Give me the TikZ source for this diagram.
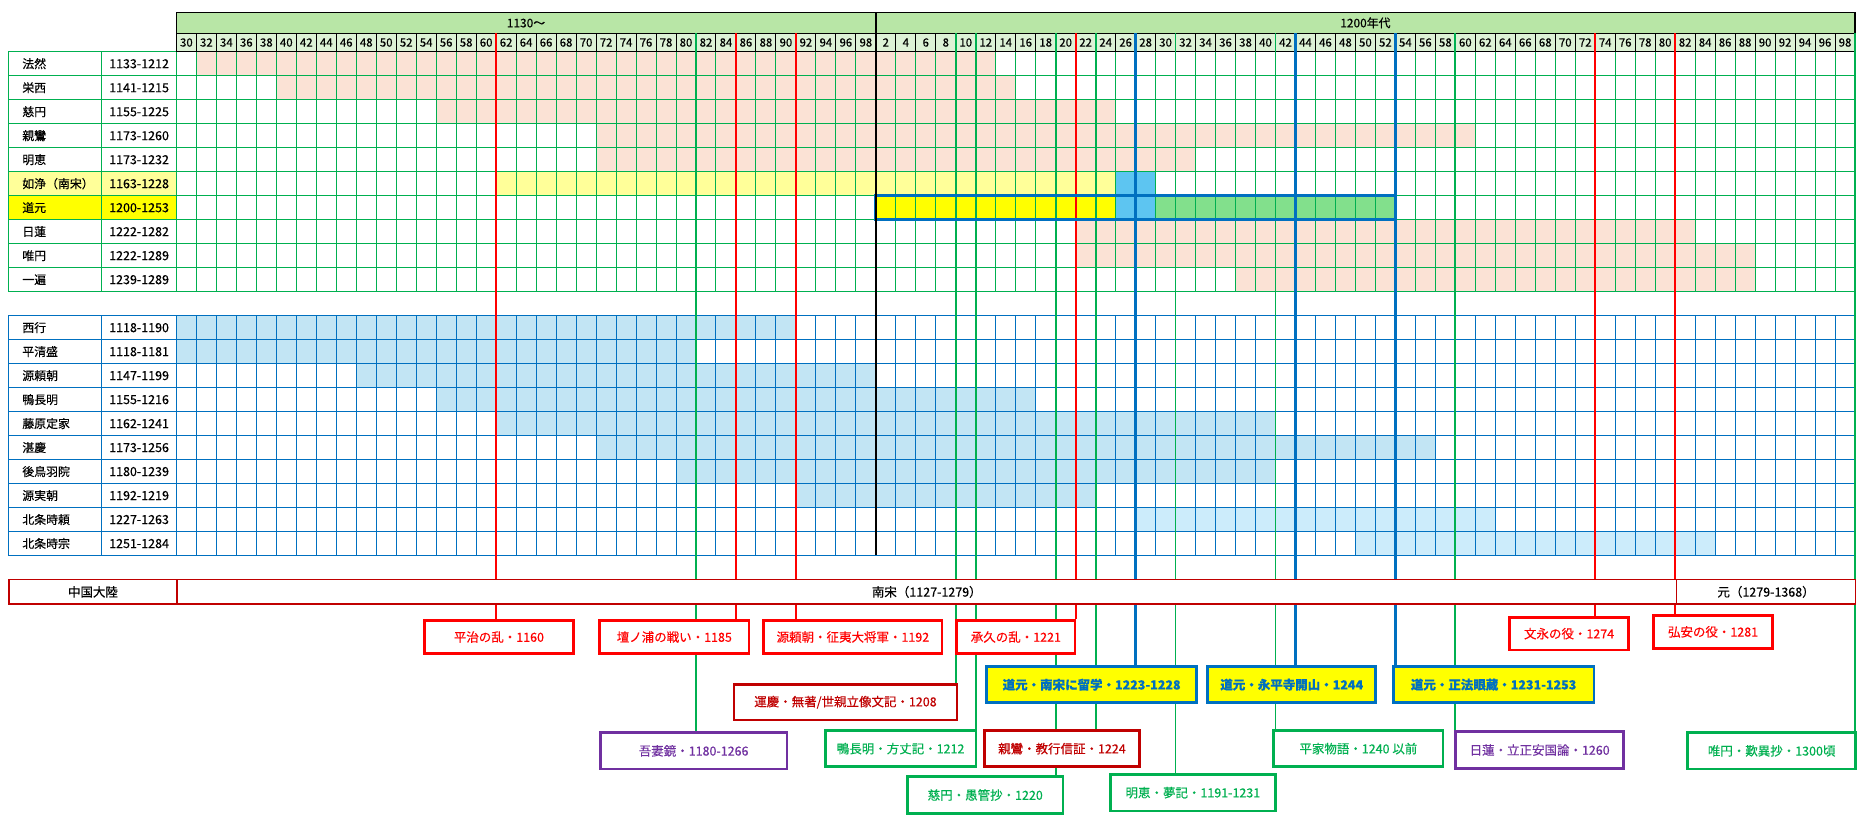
\documentclass[tikz,border=0pt]{standalone}
\usepackage{fontspec}
\setmainfont{Noto Sans CJK JP}[RawFeature={embolden=0.3}]
\definecolor{cHdr}{RGB}{184,230,166}
\definecolor{cYr}{RGB}{221,242,214}
\definecolor{cPink}{RGB}{251,226,213}
\definecolor{cLYel}{RGB}{255,255,153}
\definecolor{cYel}{RGB}{255,255,0}
\definecolor{cSky}{RGB}{93,197,241}
\definecolor{cDGrn}{RGB}{130,224,140}
\definecolor{cLBlu}{RGB}{194,229,244}
\definecolor{cLBlu2}{RGB}{204,236,251}
\definecolor{cGrn}{RGB}{0,176,80}
\definecolor{cBlu}{RGB}{0,112,192}
\definecolor{cRed}{RGB}{255,0,0}
\definecolor{cDRed}{RGB}{192,0,0}
\definecolor{cPur}{RGB}{112,48,160}
\pgfdeclarelayer{gridlayer}
\pgfdeclarelayer{linelayer}
\pgfsetlayers{gridlayer,linelayer,main}
\newcommand\CX[1]{148.4+16.81*(#1)}
\newcommand\RY[1]{43.5+20.18*(#1)}
\newcommand\spanfill[4]{\fill[#1] ({\CX{#3}},{\RY{#2}}) rectangle ({\CX{#4+1}},{\RY{#2+1}});}
\newcommand\ebox[7]{\pgfmathsetmacro\ebW{#5-#3}\pgfmathsetmacro\ebH{#6-#4}\node[#2,minimum width=\ebW pt,minimum height=\ebH pt] (#1) at ({(#3+#5)/2},{(#4+#6)/2}) {#7};}
\newcommand\trow[3]{\node[namel] (n#1) at (18.6,{\RY{#1+0.5}+3.8}) {#2};\node[datel] (d#1) at (117,{\RY{#1+0.5}+3.8}) {#3};}
\tikzset{
  x=1pt,y=-1pt,
  gg/.style={draw=cGrn,line width=0.8pt},
  gb/.style={draw=cBlu,line width=0.8pt},
  namel/.style={anchor=base west,inner sep=0pt,font=\fontsize{10}{12}\selectfont},
  datel/.style={anchor=base,inner sep=0pt,font=\fontsize{10.5}{12}\selectfont},
  yrl/.style={anchor=base,inner sep=0pt,font=\fontsize{9.6}{11}\selectfont},
  hdrl/.style={anchor=base,inner sep=0pt,font=\fontsize{10}{12}\selectfont},
  chn/.style={draw=cDRed,line width=1pt,fill=white,inner sep=0pt,minimum height=20.2pt,anchor=north west,font=\fontsize{10.5}{12}\selectfont},
  ebase/.style={draw,line width=2.2pt,fill=white,inner sep=0pt,align=center,font=\fontsize{10.5}{12}\selectfont},
  bred/.style={ebase,draw=cRed,text=cRed},
  bdred/.style={ebase,draw=cDRed,text=cDRed},
  bpur/.style={ebase,draw=cPur,text=cPur},
  bgrn/.style={ebase,draw=cGrn,text=cGrn},
  bdog/.style={ebase,draw=cBlu,fill=cYel,text=cBlu,font=\fontsize{10.5}{12}\selectfont\bfseries},
  evred/.style={draw=cRed,line width=1.5pt},
  evgrn/.style={draw=cGrn,line width=1.5pt},
  evblu/.style={draw=cBlu,line width=2.4pt},
  evblk/.style={draw=black,line width=1.6pt},
}
\begin{document}
\begin{tikzpicture}
\useasboundingbox (0,0) rectangle (1568,688);
\begin{pgfonlayer}{gridlayer}
\fill[white] (0,0) rectangle (1568,688);
\fill[cHdr] ({\CX{0}},10.4) rectangle ({\CX{84}},28);
\fill[cYr] ({\CX{0}},28) rectangle ({\CX{84}},43.5);
\fill[cLYel] (7,{\RY{5}}) rectangle (148.4,{\RY{6}});
\fill[cYel] (7,{\RY{6}}) rectangle (148.4,{\RY{7}});
% top table spans
\spanfill{cPink}{0}{1}{40}
\spanfill{cPink}{1}{5}{41}
\spanfill{cPink}{2}{13}{46}
\spanfill{cPink}{3}{21}{64}
\spanfill{cPink}{4}{21}{50}
\spanfill{cLYel}{5}{16}{46}
\spanfill{cSky}{5}{47}{48}
\spanfill{cYel}{6}{35}{46}
\spanfill{cSky}{6}{47}{48}
\spanfill{cDGrn}{6}{49}{60}
\spanfill{cPink}{7}{45}{75}
\spanfill{cPink}{8}{45}{78}
\spanfill{cPink}{9}{53}{78}
% bottom table spans
\spanfill{cLBlu}{11}{0}{30}
\spanfill{cLBlu}{12}{0}{25}
\spanfill{cLBlu}{13}{9}{34}
\spanfill{cLBlu}{14}{13}{42}
\spanfill{cLBlu}{15}{16}{54}
\spanfill{cLBlu}{16}{21}{62}
\spanfill{cLBlu}{17}{25}{54}
\spanfill{cLBlu}{18}{31}{45}
\spanfill{cLBlu2}{19}{48}{65}
\spanfill{cLBlu2}{20}{59}{76}
% top grid
\foreach \k in {0,...,84} \draw[gg] ({\CX{\k}},{\RY{0}}) -- ({\CX{\k}},{\RY{10}});
\foreach \r in {0,...,10} \draw[gg] (7,{\RY{\r}}) -- ({\CX{84}},{\RY{\r}});
\draw[gg] (7,{\RY{0}}) -- (7,{\RY{10}});
\draw[gg] (85.5,{\RY{0}}) -- (85.5,{\RY{10}});
% bottom grid
\foreach \k in {0,...,84} \draw[gb] ({\CX{\k}},{\RY{11}}) -- ({\CX{\k}},{\RY{21}});
\foreach \r in {11,...,21} \draw[gb] (7,{\RY{\r}}) -- ({\CX{84}},{\RY{\r}});
\draw[gb] (7,{\RY{11}}) -- (7,{\RY{21}});
\draw[gb] (85.5,{\RY{11}}) -- (85.5,{\RY{21}});
% year row
\foreach \k in {0,...,84} \draw[black,line width=0.8pt] ({\CX{\k}},28) -- ({\CX{\k}},43.5);
\draw[black,line width=0.8pt] ({\CX{0}},28) -- ({\CX{84}},28);
\draw[black,line width=1pt] ({\CX{0}},10.4) rectangle ({\CX{84}},43.5);
\end{pgfonlayer}
% header labels
\node[hdrl] (h1130) at (442.5,23) {1130〜};
\node[hdrl] (h1200) at (1148.6,23) {1200年代};
\foreach \i in {0,...,83}{\pgfmathtruncatemacro\yy{\i<35 ? 30+2*\i : 2*(\i-34)}\node[yrl] (yr\i) at ({\CX{\i+0.5}},39.2) {\yy};}
% table rows
\trow{0}{法然}{1133-1212}
\trow{1}{栄西}{1141-1215}
\trow{2}{慈円}{1155-1225}
\trow{3}{親鸞}{1173-1260}
\trow{4}{明恵}{1173-1232}
\trow{5}{如浄（南宋）}{1163-1228}
\trow{6}{道元}{1200-1253}
\trow{7}{日蓮}{1222-1282}
\trow{8}{唯円}{1222-1289}
\trow{9}{一遍}{1239-1289}
\trow{11}{西行}{1118-1190}
\trow{12}{平清盛}{1118-1181}
\trow{13}{源頼朝}{1147-1199}
\trow{14}{鴨長明}{1155-1216}
\trow{15}{藤原定家}{1162-1241}
\trow{16}{湛慶}{1173-1256}
\trow{17}{後鳥羽院}{1180-1239}
\trow{18}{源実朝}{1192-1219}
\trow{19}{北条時頼}{1227-1263}
\trow{20}{北条時宗}{1251-1284}
% China row
\node[chn,minimum width=141.4pt] (cn) at (7,487.3) {中国大陸};
\node[chn,minimum width=1261.4pt] (ns) at (148.4,487.3) {南宋（1127-1279）};
\node[chn,minimum width=150.6pt] (yuan) at (1409.8,487.3) {元（1279-1368）};
% event boxes
\ebox{heiji}{bred}{357.2}{522.1}{482.2}{549.6}{平治の乱・1160}
\ebox{dan}{bred}{504.4}{522.1}{630.1}{549.6}{壇ノ浦の戦い・1185}
\ebox{yorit}{bred}{642.5}{522.1}{792.4}{549.6}{源頼朝・征夷大将軍・1192}
\ebox{jokyu}{bred}{804.8}{522.1}{904.3}{549.6}{承久の乱・1221}
\ebox{bunei}{bred}{1269.9}{519.3}{1369.9}{546.8}{文永の役・1274}
\ebox{koan}{bred}{1391}{517.6}{1491}{545.4}{弘安の役・1281}
\ebox{unkei}{bdred}{617.3}{575.7}{805.1}{605.7}{運慶・無著/世親立像文記・1208}
\ebox{dogen1}{bdog}{829.9}{560.8}{1006.7}{591.1}{道元・南宋に留学・1223-1228}
\ebox{dogen2}{bdog}{1015.9}{560.8}{1157.3}{591.1}{道元・永平寺開山・1244}
\ebox{dogen3}{bdog}{1172.1}{560.8}{1340.8}{591.1}{道元・正法眼蔵・1231-1253}
\ebox{azuma}{bpur}{505}{616.3}{662}{646.9}{吾妻鏡・1180-1266}
\ebox{chomei}{bgrn}{694.3}{614.6}{820.9}{644.9}{鴨長明・方丈記・1212}
\ebox{shinran}{bdred}{828.1}{614.6}{958.5}{644.9}{親鸞・教行信証・1224}
\ebox{heike}{bgrn}{1071.5}{614.6}{1213.8}{644.9}{平家物語・1240 以前}
\ebox{nichiren}{bpur}{1224.5}{615.5}{1365.8}{646.3}{日蓮・立正安国論・1260}
\ebox{yuien}{bgrn}{1419.6}{616.3}{1561}{646.9}{唯円・歎異抄・1300頃}
\ebox{jien}{bgrn}{763.5}{653.3}{894.1}{684.2}{慈円・愚管抄・1220}
\ebox{myoe}{bgrn}{933.9}{651.4}{1073}{682.2}{明恵・夢記・1191-1231}
% line tops
\coordinate (t1160) at ({\CX{16}},28);
\coordinate (t1185) at ({\CX{28}},28);
\coordinate (t1192) at ({\CX{31}},28);
\coordinate (t1221) at ({\CX{45}},28);
\coordinate (t1274) at ({\CX{71}},28);
\coordinate (t1281) at ({\CX{75}},28);
\coordinate (t1180) at ({\CX{26}},28);
\coordinate (t1208) at ({\CX{39}},28);
\coordinate (t1212) at ({\CX{40}},28);
\coordinate (t1220) at ({\CX{44}},28);
\coordinate (t1224) at ({\CX{46}},28);
\coordinate (t1231) at ({\CX{50}},28);
\coordinate (t1240) at ({\CX{55}},28);
\coordinate (t1260) at ({\CX{64}},28);
\coordinate (t1300) at ({\CX{84}},28);
\coordinate (t1228) at ({\CX{48}},28);
\coordinate (t1244) at ({\CX{56}},28);
\coordinate (t1253) at ({\CX{61}},28);
\coordinate (t1200) at ({\CX{35}},10.4);
\coordinate (b1200) at ({\CX{35}},{\RY{21}});
\begin{pgfonlayer}{linelayer}
\draw[evred] (t1160) -- (t1160 |- heiji.north);
\draw[evred] (t1185) -- (t1185 |- dan.north);
\draw[evred] (t1192) -- (t1192 |- yorit.north);
\draw[evred] (t1221) -- (t1221 |- jokyu.north);
\draw[evred] (t1274) -- (t1274 |- bunei.north);
\draw[evred] (t1281) -- (t1281 |- koan.north);
\draw[evgrn] (t1180) -- (t1180 |- azuma.north);
\draw[evgrn] (t1208) -- (t1208 |- unkei.north);
\draw[evgrn] (t1212) -- (t1212 |- chomei.north);
\draw[evgrn] (t1220) -- (t1220 |- jien.north);
\draw[evgrn] (t1224) -- (t1224 |- shinran.north);
\draw[evgrn] (t1231) -- (t1231 |- myoe.north);
\draw[evgrn] (t1240) -- (t1240 |- heike.north);
\draw[evgrn] (t1260) -- (t1260 |- nichiren.north);
\draw[evgrn] (t1300) -- (t1300 |- yuien.north);
\draw[evblu] (t1228) -- (t1228 |- dogen1.north);
\draw[evblu] (t1244) -- (t1244 |- dogen2.north);
\draw[evblu] (t1253) -- (t1253 |- dogen3.north);
\draw[cBlu,line width=2.4pt] ({\CX{35}},{\RY{6}}) rectangle ({\CX{61}},{\RY{7}});
\draw[evblk] (t1200) -- (b1200);
\end{pgfonlayer}
\end{tikzpicture}
\end{document}
